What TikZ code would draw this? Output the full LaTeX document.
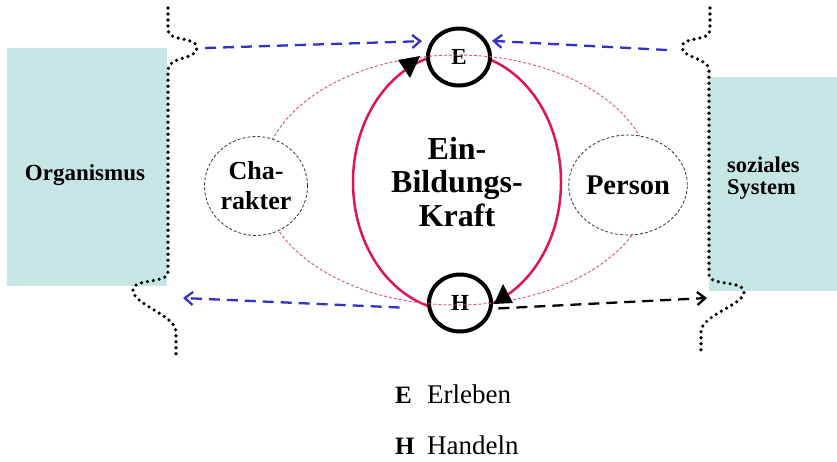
\documentclass[tikz,border=0pt]{standalone}
\usepackage{fontspec}
\setmainfont{Liberation Serif}
\usetikzlibrary{arrows.meta,shapes.geometric}
\definecolor{tealfill}{RGB}{198,230,227}
\definecolor{crimson}{RGB}{222,20,90}
\definecolor{pinkdash}{RGB}{215,80,120}
\definecolor{arrowblue}{RGB}{50,50,200}
\begin{document}
\begin{tikzpicture}[x=1pt,y=-1pt,
  system/.style={fill=tealfill,draw=none},
  border/.style={draw=black,line width=3.6pt,dash pattern=on 0pt off 6pt,line cap=round},
  eh/.style={draw=black,line width=4pt,fill=white,ellipse,minimum width=62pt,minimum height=57pt,inner sep=0pt,font=\fontsize{23}{23}\selectfont\bfseries},
  aspect/.style={draw=black!80,line width=0.8pt,dash pattern=on 3pt off 2pt,fill=white,ellipse,inner sep=0pt,align=center},
  flow/.style={line width=2.3pt,dash pattern=on 11pt off 7pt,-{Straight Barb[length=8pt,width=13pt]}},
  lbl/.style={inner sep=0pt,font=\fontsize{23}{23}\selectfont\bfseries},
  legend/.style={inner sep=0pt,anchor=base west,font=\fontsize{27}{27}\selectfont},
  legendkey/.style={inner sep=0pt,anchor=base west,font=\fontsize{25}{25}\selectfont\bfseries}
]
\useasboundingbox (0,0) rectangle (837,461);
% social systems
\fill[system] (7,48) rectangle (167,286);
\fill[system] (709,77) rectangle (837,291);
% wavy borders
\draw[border] (168,8) -- (168,30) .. controls (168,42) and (197,36) .. (197,48)
  .. controls (197,60) and (168,56) .. (168,70) -- (168,272)
  .. controls (168,284) and (133,278) .. (133,290)
  .. controls (133,305) and (176,315) .. (176,332) -- (176,354);
\draw[border] (710,8) -- (710,30) .. controls (710,42) and (682,36) .. (682,47)
  .. controls (682,58) and (709,58) .. (709,70) -- (709,275)
  .. controls (709,286) and (744,280) .. (744,292)
  .. controls (744,305) and (701,315) .. (701,332) -- (701,354);
% labels of systems
\node[lbl,anchor=base] (org) at (85,180) {Organismus};
\node[lbl,anchor=west,align=left,font=\fontsize{22.5}{22}\selectfont\bfseries] (soz) at (727,178) {soziales\\System};
% red cycle
\node[draw=crimson,line width=2.5pt,ellipse,minimum width=208pt,minimum height=258pt,inner sep=0pt,
  align=center,font=\fontsize{32}{33.5}\selectfont\bfseries] (kraft) at (457,182) {Ein-\\Bildungs-\\Kraft};
% E and H
\node[eh] (E) at (459,57) {E};
\node[eh] (H) at (460,303) {H};
% pink dashed ellipse
\draw[pinkdash,line width=0.9pt,dash pattern=on 3pt off 2pt] (457,180) ellipse [x radius=195,y radius=125];
% Charakter and Person
\node[aspect,minimum width=103pt,minimum height=99pt,font=\fontsize{26}{30}\selectfont\bfseries] (char) at (256,186) {Cha-\\rakter};
\node[aspect,minimum width=106pt,minimum height=100pt,font=\fontsize{28.5}{28.5}\selectfont\bfseries] (pers) at (628,185) {Person};
% arrow heads on the cycle
\fill[black] (398,60) -- (420,56) -- (410,78) -- cycle;
\fill[black] (494,304) -- (513,303) -- (503,284) -- cycle;
% flows
\coordinate (tl) at (205,48);
\coordinate (tr) at (667,50);
\coordinate (bl) at (183,298);
\coordinate (br) at (707,298);
\draw[flow,arrowblue,shorten >=9pt] (tl) -- (E.150);
\draw[flow,arrowblue] (tr) -- ([xshift=5pt]E.30);
\draw[flow,arrowblue,shorten <=28pt] (H.190) -- (bl);
\draw[flow,black,shorten <=6pt] (H.-10) -- (br);
% legend
\node[legendkey] (le) at (395,403) {E};
\node[legend] (lel) at (427,403) {Erleben};
\node[legendkey] (lh) at (395,454) {H};
\node[legend] (lhl) at (427,454) {Handeln};
\end{tikzpicture}
\end{document}
